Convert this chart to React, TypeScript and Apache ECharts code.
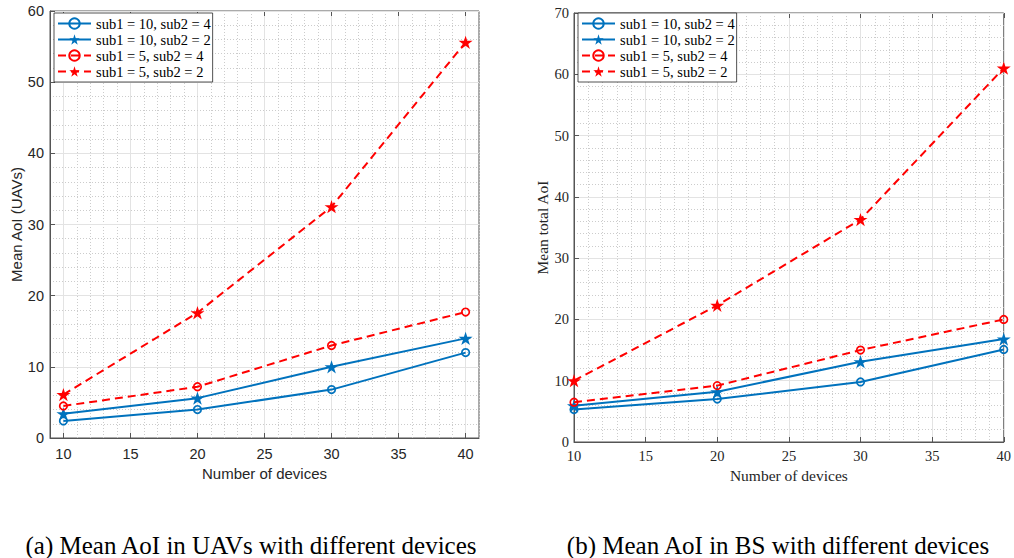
import React, { useEffect, useRef } from "react";
import * as echarts from "echarts";

// ---------- data ----------
const devices = [10, 20, 30, 40];
const seriesNames = [
  "sub1 = 10, sub2 = 4",
  "sub1 = 10, sub2 = 2",
  "sub1 = 5, sub2 = 4",
  "sub1 = 5, sub2 = 2",
];
// (a) Mean AoI in UAVs
const uavSub10Sub4 = [2.4, 4.0, 6.8, 12.0];
const uavSub10Sub2 = [3.4, 5.6, 10.0, 14.0];
const uavSub5Sub4 = [4.5, 7.2, 13.0, 17.7];
const uavSub5Sub2 = [6.1, 17.6, 32.5, 55.6];
// (b) Mean AoI in BS
const bsSub10Sub4 = [5.3, 7.0, 9.8, 15.1];
const bsSub10Sub2 = [5.9, 8.2, 13.1, 16.8];
const bsSub5Sub4 = [6.5, 9.2, 15.0, 20.0];
const bsSub5Sub2 = [10.0, 22.3, 36.3, 61.0];

const xTickValues = [10, 15, 20, 25, 30, 35, 40];
const captionA = "(a) Mean AoI in UAVs with different devices";
const captionB = "(b) Mean AoI in BS with different devices";

// ---------- styles ----------
const BLUE = "#0072BD";
const RED = "#FF0000";
const AX = "#555555";
const TXT = "#262626";
const MAJ = "#e3e3e3";
const MIN = "#cccccc";
const CLEAR = "rgba(0,0,0,0)";
const STAR =
  "path://M50 0 L61.2 34.55 L97.55 34.55 L68.15 55.9 L79.4 90.45 L50 69.1 L20.6 90.45 L31.85 55.9 L2.45 34.55 L38.8 34.55 Z";

const seriesLook = [
  { color: BLUE, dashed: false, star: false },
  { color: BLUE, dashed: false, star: true },
  { color: RED, dashed: true, star: false },
  { color: RED, dashed: true, star: true },
];

type Panel = {
  grid: { left: number; top: number; width: number; height: number };
  xMin: number;
  xMax: number;
  yMax: number;
  font: string;
  xName: string;
  yName: string;
  xNameGap: number;
  yNameGap: number;
  xLabelMargin: number;
  yLabelMargin: number;
  nameSize: number;
  tickSize: number;
  values: number[][];
  legendPos: { left: number; top: number };
};

function buildPanel(p: Panel, gi: number) {
  const majorIdx = (5 - (p.xMin % 5)) % 5;
  const minorColors = [0, 1, 2, 3, 4].map((i) => (i === majorIdx ? CLEAR : MIN));
  const majorColors = [0, 1, 2, 3, 4].map((i) => (i === majorIdx ? MAJ : CLEAR));
  const xBase = gi * 4;
  const yBase = gi * 2;
  const xAxes = [
    {
      gridIndex: gi,
      type: "value",
      min: p.xMin,
      max: p.xMax,
      position: "bottom",
      axisLine: { show: true, onZero: false, lineStyle: { color: AX, width: 1 } },
      axisTick: { show: true, inside: true, length: 5, customValues: xTickValues, lineStyle: { color: AX } },
      axisLabel: {
        customValues: xTickValues,
        color: TXT,
        fontFamily: p.font,
        fontSize: p.tickSize,
        margin: p.xLabelMargin,
      },
      splitLine: { show: false },
      name: p.xName,
      nameLocation: "middle",
      nameGap: p.xNameGap,
      nameTextStyle: { color: TXT, fontFamily: p.font, fontSize: p.nameSize },
      z: 3,
    },
    {
      gridIndex: gi,
      type: "value",
      min: p.xMin,
      max: p.xMax,
      interval: 1,
      axisLine: { show: false },
      axisTick: { show: false },
      axisLabel: { show: false },
      splitLine: { show: true, lineStyle: { color: minorColors, width: 1, type: [1, 2] } },
    },
    {
      gridIndex: gi,
      type: "value",
      min: p.xMin,
      max: p.xMax,
      interval: 1,
      axisLine: { show: false },
      axisTick: { show: false },
      axisLabel: { show: false },
      splitLine: { show: true, lineStyle: { color: majorColors, width: 1 } },
    },
    {
      gridIndex: gi,
      type: "value",
      min: p.xMin,
      max: p.xMax,
      position: "top",
      axisLine: { show: false },
      axisTick: { show: true, inside: true, length: 5, customValues: xTickValues, lineStyle: { color: AX } },
      axisLabel: { show: false },
      splitLine: { show: false },
    },
  ];
  const yAxes = [
    {
      gridIndex: gi,
      type: "value",
      min: 0,
      max: p.yMax,
      interval: 10,
      position: "left",
      axisLine: { show: true, onZero: false, lineStyle: { color: AX, width: 1 } },
      axisTick: { show: true, inside: true, length: 5, lineStyle: { color: AX } },
      axisLabel: { color: TXT, fontFamily: p.font, fontSize: p.tickSize, margin: p.yLabelMargin },
      splitLine: { show: true, lineStyle: { color: MAJ, width: 1 } },
      minorTick: { show: false, splitNumber: 5 },
      minorSplitLine: { show: true, lineStyle: { color: MIN, width: 1, type: [1, 2] } },
      name: p.yName,
      nameLocation: "middle",
      nameGap: p.yNameGap,
      nameTextStyle: { color: TXT, fontFamily: p.font, fontSize: p.nameSize },
      z: 3,
    },
    {
      gridIndex: gi,
      type: "value",
      min: 0,
      max: p.yMax,
      interval: 10,
      position: "right",
      axisLine: { show: false },
      axisTick: { show: true, inside: true, length: 5, lineStyle: { color: AX } },
      axisLabel: { show: false },
      splitLine: { show: false },
    },
  ];
  const series = p.values.map((vals, k) => {
    const look = seriesLook[k];
    return {
      type: "line",
      name: seriesNames[k],
      xAxisIndex: xBase,
      yAxisIndex: yBase,
      data: devices.map((d, i) => [d, vals[i]]),
      symbol: look.star ? STAR : "circle",
      symbolSize: look.star ? 14 : 7.5,
      symbolKeepAspect: true,
      lineStyle: { color: look.color, width: 2, type: look.dashed ? [8, 5] : "solid" },
      itemStyle: look.star
        ? { color: look.color }
        : { color: CLEAR, borderColor: look.color, borderWidth: 1.7 },
      emphasis: { disabled: true },
      z: 4 + k,
    };
  });
  const legend = {
    left: p.legendPos.left,
    top: p.legendPos.top,
    orient: "vertical",
    itemWidth: 33,
    itemHeight: 13,
    itemGap: 1,
    padding: [3, 2, 3, 3],
    backgroundColor: "#ffffff",
    borderColor: "#262626",
    borderWidth: 0.8,
    selectedMode: false,
    textStyle: { fontFamily: "Liberation Serif", fontSize: 14.5, lineHeight: 15, color: "#000" },
    data: seriesNames,
    z: 20,
  };
  const grid = {
    ...p.grid,
    show: true,
    borderColor: AX,
    borderWidth: 1,
    backgroundColor: "#ffffff",
  };
  return { xAxes, yAxes, series, legend, grid };
}

export default function App() {
  const ref = useRef<HTMLDivElement>(null);
  useEffect(() => {
    if (!ref.current) return;
    const chart = echarts.init(ref.current, undefined, { renderer: "svg" });
    const left = buildPanel(
      {
        grid: { left: 50, top: 11, width: 429, height: 427 },
        xMin: 9,
        xMax: 41,
        yMax: 60,
        font: "Liberation Sans",
        xName: "Number of devices",
        yName: "Mean AoI (UAVs)",
        xNameGap: 27,
        yNameGap: 26,
        xLabelMargin: 8,
        yLabelMargin: 6,
        nameSize: 15,
        tickSize: 14.5,
        values: [uavSub10Sub4, uavSub10Sub2, uavSub5Sub4, uavSub5Sub2],
        legendPos: { left: 54, top: 13 },
      },
      0
    );
    const right = buildPanel(
      {
        grid: { left: 574, top: 13, width: 432, height: 429 },
        xMin: 10,
        xMax: 40,
        yMax: 70,
        font: "Liberation Serif",
        xName: "Number of devices",
        yName: "Mean total AoI",
        xNameGap: 25,
        yNameGap: 22,
        xLabelMargin: 6,
        yLabelMargin: 5,
        nameSize: 15.5,
        tickSize: 14.5,
        values: [bsSub10Sub4, bsSub10Sub2, bsSub5Sub4, bsSub5Sub2],
        legendPos: { left: 578, top: 13 },
      },
      1
    );
    chart.setOption({
      animation: false,
      backgroundColor: "#ffffff",
      grid: [left.grid, right.grid],
      xAxis: [...left.xAxes, ...right.xAxes],
      yAxis: [...left.yAxes, ...right.yAxes],
      legend: [left.legend, right.legend],
      series: [...left.series, ...right.series],
      graphic: [
        {
          type: "text",
          x: 251,
          y: 545,
          style: {
            text: captionA,
            fontFamily: "Liberation Serif",
            fontSize: 25,
            fill: "#000",
            align: "center",
            textAlign: "center",
            verticalAlign: "middle",
            textVerticalAlign: "middle",
          },
        },
        {
          type: "text",
          x: 778,
          y: 545,
          style: {
            text: captionB,
            fontFamily: "Liberation Serif",
            fontSize: 25,
            fill: "#000",
            align: "center",
            textAlign: "center",
            verticalAlign: "middle",
            textVerticalAlign: "middle",
          },
        },
      ],
    });
    return () => chart.dispose();
  }, []);
  return (
    <div
      ref={ref}
      style={{ position: "fixed", left: 0, top: 0, width: 1014, height: 558, background: "#fff" }}
    />
  );
}
